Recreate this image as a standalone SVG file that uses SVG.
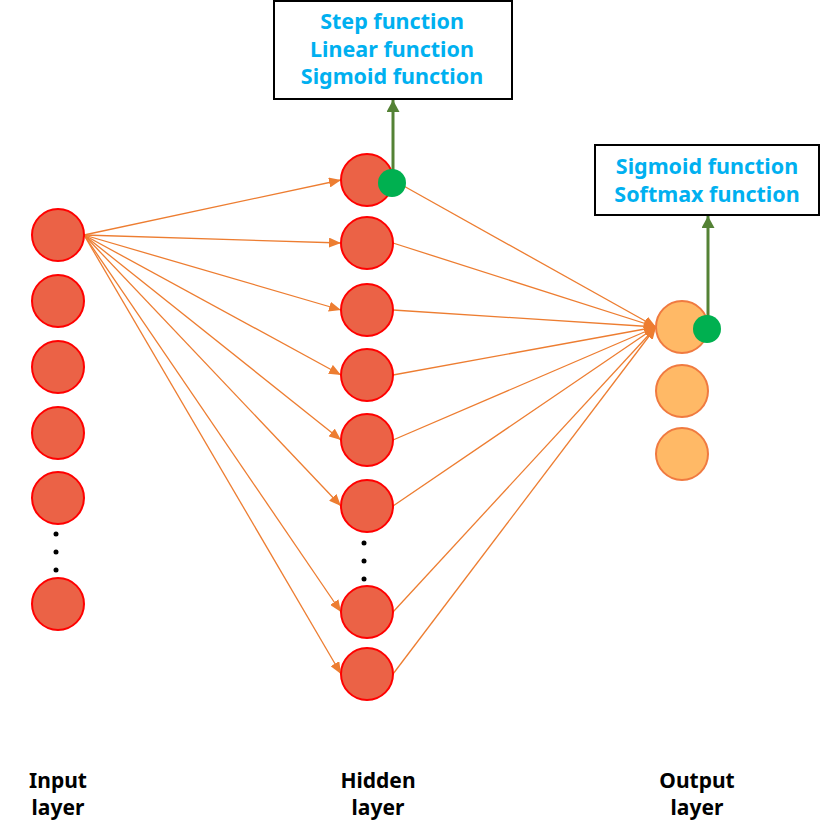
<svg xmlns="http://www.w3.org/2000/svg" width="821" height="837" viewBox="0 0 821 837">
<defs>
<style>
.conn{stroke:#ED7D31;stroke-width:1.3;fill:none;marker-end:url(#ah)}
.gl{stroke:#548235;stroke-width:3;fill:none;marker-end:url(#gh)}
.n{fill:#EB6246;stroke:#FF0000;stroke-width:2}
.o{fill:#FFB966;stroke:#F07A40;stroke-width:2}
.g{fill:#00B050}
.dot{fill:#000}
.box{fill:#fff;stroke:#000;stroke-width:2}
.bt{font-family:"Noto Sans","Liberation Sans",sans-serif;font-weight:bold;font-size:21.5px;fill:#00B0F0;text-anchor:middle}
.lb{font-family:"Noto Sans","Liberation Sans",sans-serif;font-weight:bold;font-size:21px;fill:#000;text-anchor:middle}
</style>
<marker id="ah" viewBox="0 0 12 10" refX="12" refY="5" markerWidth="12" markerHeight="10" markerUnits="userSpaceOnUse" orient="auto"><path d="M0,0 L12,5 L0,10 z" fill="#ED7D31"/></marker>
<marker id="gh" viewBox="0 0 12 13" refX="12" refY="6.5" markerWidth="12" markerHeight="13" markerUnits="userSpaceOnUse" orient="auto"><path d="M0,0 L12,6.5 L0,13 z" fill="#548235"/></marker>
</defs>
<g id="connectors">
<line class="conn" x1="84" y1="235" x2="341" y2="180"/>
<line class="conn" x1="84" y1="235" x2="341" y2="243"/>
<line class="conn" x1="84" y1="235" x2="341" y2="310"/>
<line class="conn" x1="84" y1="235" x2="341" y2="375"/>
<line class="conn" x1="84" y1="235" x2="341" y2="440"/>
<line class="conn" x1="84" y1="235" x2="341" y2="506"/>
<line class="conn" x1="84" y1="235" x2="341" y2="612"/>
<line class="conn" x1="84" y1="235" x2="341" y2="674"/>
<line class="conn" x1="393" y1="180" x2="656" y2="327"/>
<line class="conn" x1="393" y1="243" x2="656" y2="327"/>
<line class="conn" x1="393" y1="310" x2="656" y2="327"/>
<line class="conn" x1="393" y1="375" x2="656" y2="327"/>
<line class="conn" x1="393" y1="440" x2="656" y2="327"/>
<line class="conn" x1="393" y1="506" x2="656" y2="327"/>
<line class="conn" x1="393" y1="612" x2="656" y2="327"/>
<line class="conn" x1="393" y1="674" x2="656" y2="327"/>
<line class="gl" x1="393" y1="183" x2="393" y2="100"/>
<line class="gl" x1="708" y1="329" x2="708" y2="216"/>
</g>
<g id="input-layer">
<circle class="n" cx="58" cy="235" r="26"/>
<circle class="n" cx="58" cy="301" r="26"/>
<circle class="n" cx="58" cy="367" r="26"/>
<circle class="n" cx="58" cy="433" r="26"/>
<circle class="n" cx="58" cy="498" r="26"/>
<circle class="dot" cx="56" cy="534" r="2.5"/>
<circle class="dot" cx="56" cy="552" r="2.5"/>
<circle class="dot" cx="56" cy="570" r="2.5"/>
<circle class="n" cx="58" cy="604" r="26"/>
</g>
<g id="hidden-layer">
<circle class="n" cx="367" cy="180" r="26"/>
<circle class="n" cx="367" cy="243" r="26"/>
<circle class="n" cx="367" cy="310" r="26"/>
<circle class="n" cx="367" cy="375" r="26"/>
<circle class="n" cx="367" cy="440" r="26"/>
<circle class="n" cx="367" cy="506" r="26"/>
<circle class="dot" cx="364" cy="543" r="2.5"/>
<circle class="dot" cx="364" cy="561" r="2.5"/>
<circle class="dot" cx="364" cy="579" r="2.5"/>
<circle class="n" cx="367" cy="612" r="26"/>
<circle class="n" cx="367" cy="674" r="26"/>
</g>
<g id="output-layer">
<circle class="o" cx="682" cy="327" r="26"/>
<circle class="o" cx="682" cy="391" r="26"/>
<circle class="o" cx="682" cy="454" r="26"/>
</g>
<g id="hidden-activation-dot"><circle class="g" cx="392" cy="183" r="14"/></g>
<g id="output-activation-dot"><circle class="g" cx="707" cy="329" r="14"/></g>
<g id="hidden-functions">
<rect class="box" x="274" y="1" width="238" height="98"/>
<text class="bt" x="392" y="29">Step function</text>
<text class="bt" x="392" y="57">Linear function</text>
<text class="bt" x="392" y="84">Sigmoid function</text>
</g>
<g id="output-functions">
<rect class="box" x="595" y="145" width="224" height="70"/>
<text class="bt" x="707" y="174">Sigmoid function</text>
<text class="bt" x="707" y="202">Softmax function</text>
</g>
<g id="labels">
<text class="lb" x="58" y="788">Input</text>
<text class="lb" x="58" y="815">layer</text>
<text class="lb" x="378" y="788">Hidden</text>
<text class="lb" x="378" y="815">layer</text>
<text class="lb" x="697" y="788">Output</text>
<text class="lb" x="697" y="815">layer</text>
</g>
</svg>
